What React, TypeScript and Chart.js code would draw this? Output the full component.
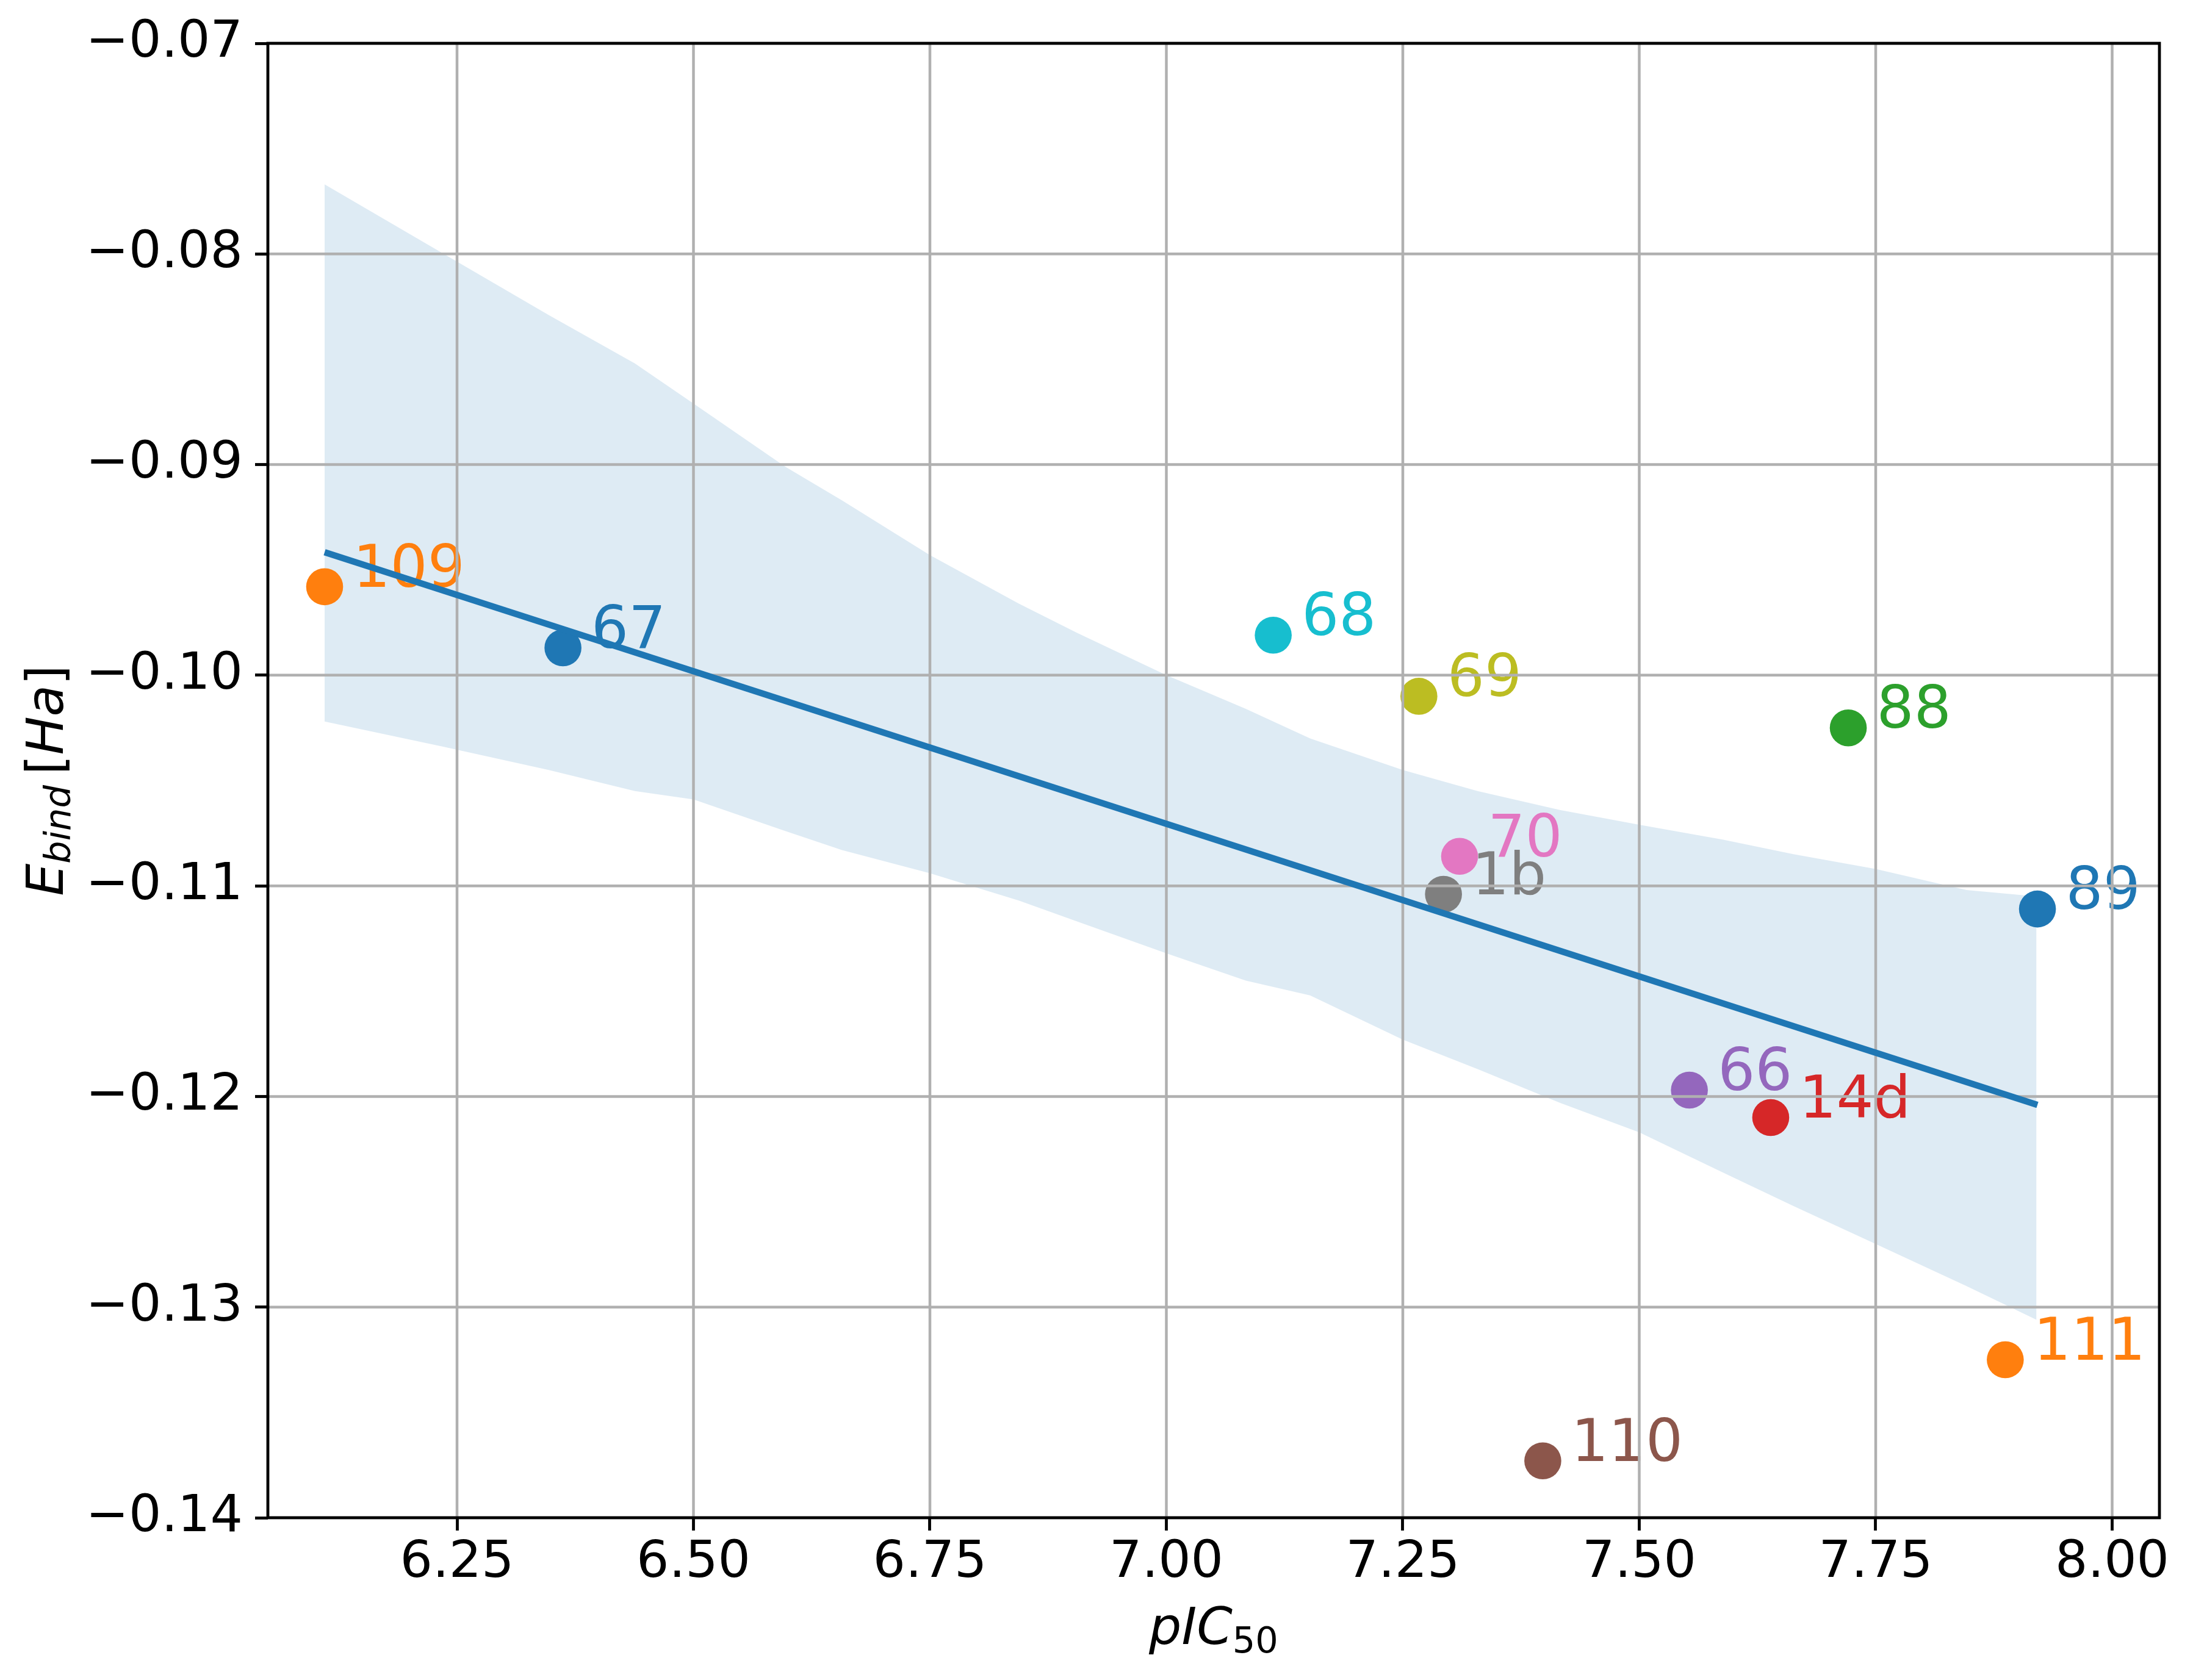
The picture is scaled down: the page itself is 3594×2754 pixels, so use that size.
import React, { useEffect, useRef } from 'react';
import { Chart, registerables } from 'chart.js';

Chart.register(...registerables);

const W = 3594;
const H = 2754;

// ---- data ----
const compoundLabels = ['109', '67', '68', '69', '88', '70', '1b', '89', '66', '14d', '111', '110'];
const pIC50 = [6.110, 6.362, 7.113, 7.267, 7.721, 7.310, 7.293, 7.921, 7.553, 7.639, 7.887, 7.398];
const Ebind = [-0.0958, -0.0987, -0.0981, -0.1010, -0.1025, -0.1086, -0.1104, -0.1111, -0.1197, -0.1210, -0.1325, -0.1373];
const pointColors = ['#ff7f0e', '#1f77b4', '#17becf', '#bcbd22', '#2ca02c', '#e377c2', '#7f7f7f', '#1f77b4', '#9467bd', '#d62728', '#ff7f0e', '#8c564b'];

const fitX = [6.110, 7.921];
const fitY = [-0.09416, -0.1204];

const bandX = [6.110, 6.236, 6.347, 6.438, 6.500, 6.597, 6.657, 6.750, 6.844, 6.906, 7.000, 7.084, 7.152, 7.250, 7.329, 7.416, 7.500, 7.588, 7.663, 7.750, 7.846, 7.920];
const bandUpper = [-0.0767, -0.0800, -0.0829, -0.0852, -0.0871, -0.0901, -0.0917, -0.0943, -0.0966, -0.0980, -0.1000, -0.1016, -0.1030, -0.1045, -0.1055, -0.1064, -0.1071, -0.1078, -0.1085, -0.1092, -0.1102, -0.1105];
const bandLower = [-0.1022, -0.1034, -0.1045, -0.1055, -0.1059, -0.1074, -0.1083, -0.1094, -0.1107, -0.1117, -0.1132, -0.1145, -0.1152, -0.1173, -0.1187, -0.1203, -0.1217, -0.1236, -0.1252, -0.1270, -0.1290, -0.1306];

const xTicks = [6.25, 6.5, 6.75, 7.0, 7.25, 7.5, 7.75, 8.0];
const yTicks = [-0.14, -0.13, -0.12, -0.11, -0.10, -0.09, -0.08, -0.07];
const xRange = [6.05, 8.05];
const yRange = [-0.14, -0.07];

const labelDx = 0.03;

// ---- style ----
const FONT = '"DejaVu Sans"';
const TICK_SIZE = 84;
const LABEL_SIZE = 96;
const SUB_SCALE = 0.7;
const GRID_COLOR = '#b0b0b0';
const GRID_W = 4.5;
const SPINE_W = 4.8;
const FIT_W = 10.5;
const AREA = { left: 439, right: 3539, top: 71, bottom: 2488 };

function drawRuns(ctx: CanvasRenderingContext2D, runs: { t: string; font: string; dy: number }[], cx: number, baseY: number) {
  let total = 0;
  const widths = runs.map((r) => {
    ctx.font = r.font;
    const w = ctx.measureText(r.t).width;
    total += w;
    return w;
  });
  let x = cx - total / 2;
  runs.forEach((r, i) => {
    ctx.font = r.font;
    ctx.fillText(r.t, x, baseY + r.dy);
    x += widths[i];
  });
}

const overlayPlugin = {
  id: 'overlay',
  beforeDatasetsDraw(chart: any) {
    const ctx = chart.ctx as CanvasRenderingContext2D;
    const xs = chart.scales.x;
    const ys = chart.scales.y;
    ctx.save();
    ctx.font = `${LABEL_SIZE}px ${FONT}`;
    ctx.textAlign = 'left';
    ctx.textBaseline = 'alphabetic';
    compoundLabels.forEach((lab, i) => {
      ctx.fillStyle = pointColors[i];
      ctx.fillText(lab, xs.getPixelForValue(pIC50[i] + labelDx), ys.getPixelForValue(Ebind[i]));
    });
    ctx.restore();
  },
  afterDatasetDraw(chart: any, args: any) {
    if (args.index !== 1) return;
    const ctx = chart.ctx as CanvasRenderingContext2D;
    const a = chart.chartArea;
    const xs = chart.scales.x;
    const ys = chart.scales.y;
    ctx.save();
    ctx.beginPath();
    ctx.rect(a.left, a.top, a.right - a.left, a.bottom - a.top);
    ctx.clip();
    ctx.strokeStyle = GRID_COLOR;
    ctx.lineWidth = GRID_W;
    ctx.lineCap = 'butt';
    xTicks.forEach((v) => {
      const p = xs.getPixelForValue(v);
      ctx.beginPath();
      ctx.moveTo(p, a.top);
      ctx.lineTo(p, a.bottom);
      ctx.stroke();
    });
    yTicks.forEach((v) => {
      const p = ys.getPixelForValue(v);
      ctx.beginPath();
      ctx.moveTo(a.left, p);
      ctx.lineTo(a.right, p);
      ctx.stroke();
    });
    ctx.restore();
  },
  afterDraw(chart: any) {
    const ctx = chart.ctx as CanvasRenderingContext2D;
    const a = chart.chartArea;
    ctx.save();
    ctx.strokeStyle = '#000';
    ctx.lineWidth = SPINE_W;
    ctx.lineJoin = 'miter';
    ctx.strokeRect(a.left, a.top, a.right - a.left, a.bottom - a.top);

    ctx.fillStyle = '#000';
    ctx.textAlign = 'left';
    ctx.textBaseline = 'alphabetic';
    const sub = Math.round(TICK_SIZE * SUB_SCALE);
    // x title: pIC_50
    drawRuns(
      ctx,
      [
        { t: 'pIC', font: `italic ${TICK_SIZE}px ${FONT}`, dy: 0 },
        { t: '50', font: `${sub}px ${FONT}`, dy: 14 },
      ],
      (a.left + a.right) / 2,
      2695
    );
    // y title: E_bind [Ha]
    ctx.translate(103, (a.top + a.bottom) / 2);
    ctx.rotate(-Math.PI / 2);
    drawRuns(
      ctx,
      [
        { t: 'E', font: `italic ${TICK_SIZE}px ${FONT}`, dy: 0 },
        { t: 'bind', font: `italic ${sub}px ${FONT}`, dy: 12 },
        { t: '\u2009', font: `${TICK_SIZE}px ${FONT}`, dy: 0 },
        { t: '[', font: `${TICK_SIZE}px ${FONT}`, dy: 0 },
        { t: 'Ha', font: `italic ${TICK_SIZE}px ${FONT}`, dy: 0 },
        { t: ']', font: `${TICK_SIZE}px ${FONT}`, dy: 0 },
      ],
      0,
      0
    );
    ctx.restore();
  },
};

export default function App() {
  const ref = useRef<HTMLCanvasElement | null>(null);

  useEffect(() => {
    const canvas = ref.current;
    if (!canvas) return;
    const tickFont = { family: FONT, size: TICK_SIZE };
    const chart = new Chart(canvas, {
      type: 'scatter',
      data: {
        datasets: [
          {
            type: 'line',
            data: fitX.map((x, i) => ({ x, y: fitY[i] })),
            borderColor: '#1f77b4',
            borderWidth: FIT_W,
            borderCapStyle: 'butt',
            pointRadius: 0,
            fill: false,
            tension: 0,
          } as any,
          {
            type: 'scatter',
            data: pIC50.map((x, i) => ({ x, y: Ebind[i] })),
            pointRadius: 30.3,
            pointHoverRadius: 30.3,
            pointBackgroundColor: pointColors,
            pointBorderWidth: 0,
            borderWidth: 0,
            borderColor: 'rgba(0,0,0,0)',
          } as any,
          {
            type: 'line',
            data: bandX.map((x, i) => ({ x, y: bandUpper[i] })),
            borderColor: 'rgba(0,0,0,0)',
            borderWidth: 0,
            pointRadius: 0,
            fill: '+1',
            backgroundColor: 'rgba(31,119,180,0.15)',
            tension: 0,
          } as any,
          {
            type: 'line',
            data: bandX.map((x, i) => ({ x, y: bandLower[i] })),
            borderColor: 'rgba(0,0,0,0)',
            borderWidth: 0,
            pointRadius: 0,
            fill: false,
            tension: 0,
          } as any,
        ],
      },
      options: {
        animation: false,
        responsive: false,
        devicePixelRatio: 1,
        events: [],
        layout: { padding: { left: 0, right: W - AREA.right, top: AREA.top, bottom: 0 } },
        plugins: {
          legend: { display: false },
          tooltip: { enabled: false },
          filler: { drawTime: 'beforeDraw', propagate: false },
        } as any,
        scales: {
          x: {
            type: 'linear',
            min: xRange[0],
            max: xRange[1],
            afterBuildTicks: (s: any) => {
              s.ticks = xTicks.map((v) => ({ value: v }));
            },
            afterFit: (s: any) => {
              s.height = H - AREA.bottom;
              s.paddingLeft = 0;
              s.paddingRight = 0;
              s.paddingTop = 0;
              s.paddingBottom = 0;
            },
            ticks: {
              font: tickFont,
              color: '#000',
              padding: 4,
              maxRotation: 0,
              autoSkip: false,
              callback: (v: any) => Number(v).toFixed(2),
            },
            grid: {
              drawOnChartArea: false,
              drawTicks: true,
              tickLength: 21,
              tickWidth: SPINE_W,
              tickColor: '#000',
            },
            border: { display: false },
          },
          y: {
            type: 'linear',
            min: yRange[0],
            max: yRange[1],
            afterBuildTicks: (s: any) => {
              s.ticks = yTicks.map((v) => ({ value: v }));
            },
            afterFit: (s: any) => {
              s.width = AREA.left;
              s.paddingLeft = 0;
              s.paddingRight = 0;
              s.paddingTop = 0;
              s.paddingBottom = 0;
            },
            ticks: {
              font: tickFont,
              color: '#000',
              padding: 20,
              autoSkip: false,
              callback: (v: any) => '\u2212' + Math.abs(Number(v)).toFixed(2),
            },
            grid: {
              drawOnChartArea: false,
              drawTicks: true,
              tickLength: 21,
              tickWidth: SPINE_W,
              tickColor: '#000',
            },
            border: { display: false },
          },
        },
      },
      plugins: [overlayPlugin as any],
    });
    return () => chart.destroy();
  }, []);

  return (
    <div style={{ position: 'absolute', left: 0, top: 0, width: W, height: H, background: '#fff' }}>
      <canvas ref={ref} width={W} height={H} style={{ display: 'block', width: W, height: H }} />
    </div>
  );
}
